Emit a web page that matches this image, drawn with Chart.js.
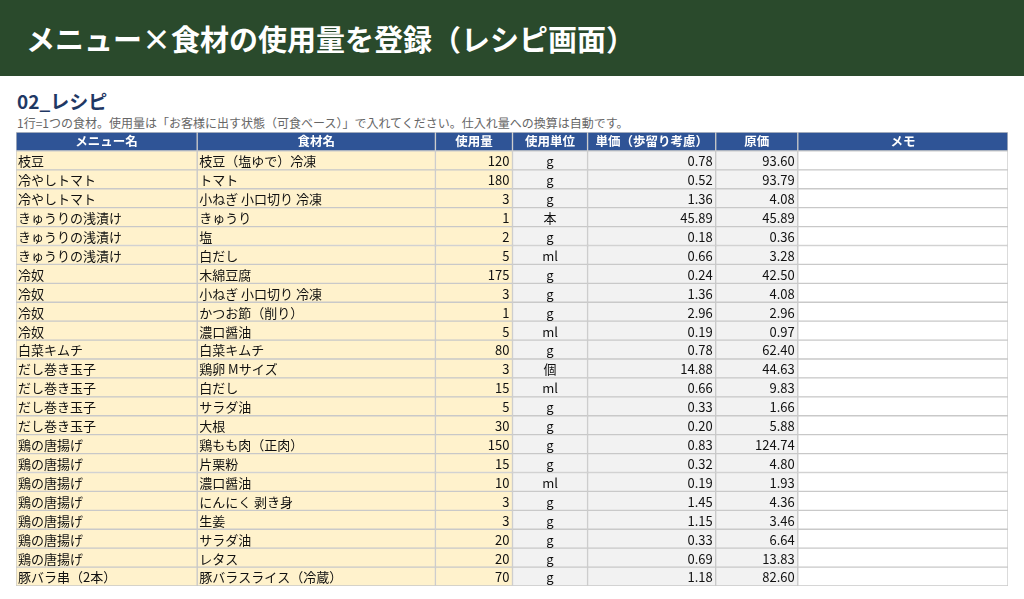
<!DOCTYPE html>
<html><head><meta charset="utf-8">
<script src="https://cdn.jsdelivr.net/npm/chart.js@4"></script>
<style>
body{margin:0;width:1024px;height:599px;overflow:hidden;background:#fff;font-family:"Noto Sans CJK JP","Noto Sans",sans-serif;}
#bar{position:absolute;left:0;top:0;width:1024px;height:76px;background:#2a4a2c;color:#fff;font-weight:bold;font-size:29px;line-height:76px;padding-left:26px;box-sizing:border-box;}
#h2{position:absolute;left:17px;top:87px;font-size:19px;font-weight:bold;color:#1f3864;}
#sub{position:absolute;left:17px;top:114px;font-size:12px;color:#666;}
#wrap{position:absolute;left:16px;top:132px;width:992px;height:454px;}
</style></head><body>
<div id="bar">メニュー×食材の使用量を登録（レシピ画面）</div>
<div id="h2">02_レシピ</div>
<div id="sub">1行=1つの食材。使用量は「お客様に出す状態（可食ベース）」で入れてください。仕入れ量への換算は自動です。</div>
<div id="wrap"><canvas id="c"></canvas></div>
<script>
const headers=["メニュー名","食材名","使用量","使用単位","単価（歩留り考慮）","原価","メモ"];
const menus=["枝豆","冷やしトマト","冷やしトマト","きゅうりの浅漬け","きゅうりの浅漬け","きゅうりの浅漬け","冷奴","冷奴","冷奴","冷奴","白菜キムチ","だし巻き玉子","だし巻き玉子","だし巻き玉子","だし巻き玉子","鶏の唐揚げ","鶏の唐揚げ","鶏の唐揚げ","鶏の唐揚げ","鶏の唐揚げ","鶏の唐揚げ","鶏の唐揚げ","豚バラ串（2本）"];
const ingredients=["枝豆（塩ゆで）冷凍","トマト","小ねぎ 小口切り 冷凍","きゅうり","塩","白だし","木綿豆腐","小ねぎ 小口切り 冷凍","かつお節（削り）","濃口醤油","白菜キムチ","鶏卵 Mサイズ","白だし","サラダ油","大根","鶏もも肉（正肉）","片栗粉","濃口醤油","にんにく 剥き身","生姜","サラダ油","レタス","豚バラスライス（冷蔵）"];
const amounts=[120,180,3,1,2,5,175,3,1,5,80,3,15,5,30,150,15,10,3,3,20,20,70];
const units=["g","g","g","本","g","ml","g","g","g","ml","g","個","ml","g","g","g","g","ml","g","g","g","g","g"];
const unitPrices=[0.78,0.52,1.36,45.89,0.18,0.66,0.24,1.36,2.96,0.19,0.78,14.88,0.66,0.33,0.20,0.83,0.32,0.19,1.45,1.15,0.33,0.69,1.18];
const costs=[93.60,93.79,4.08,45.89,0.36,3.28,42.50,4.08,2.96,0.97,62.40,44.63,9.83,1.66,5.88,124.74,4.80,1.93,4.36,3.46,6.64,13.83,82.60];
const colWidths=[181,238,77,75,128,82,210];
const colFills=["#fff2cc","#fff2cc","#fff2cc","#f2f2f2","#f2f2f2","#f2f2f2","#ffffff"];
const aligns=["left","left","right","center","right","right","left"];
const rowLabels=["header"].concat(menus.map((m,i)=>"r"+i));
const cellText=(c,r)=>{ if(r===0) return headers[c];
  const i=r-1; return [menus[i],ingredients[i],String(amounts[i]),units[i],unitPrices[i].toFixed(2),costs[i].toFixed(2),""][c]; };
const datasets=colWidths.map((w,c)=>({label:headers[c],data:rowLabels.map(()=>w),
  backgroundColor:rowLabels.map((_,r)=>r===0?"#2f5496":colFills[c]),
  borderColor:"#c9c9c9",borderWidth:1,borderSkipped:false,categoryPercentage:1,barPercentage:1}));
const textPlugin={id:"txt",afterDatasetsDraw(ch){const ctx=ch.ctx;ctx.save();ctx.textBaseline="middle";
  ch.data.datasets.forEach((ds,c)=>{ch.getDatasetMeta(c).data.forEach((el,r)=>{
    const t=cellText(c,r); if(!t) return; const L=el.base,R=el.x;
    if(r===0){ctx.font="bold 12.5px 'Noto Sans CJK JP'";ctx.fillStyle="#fff";ctx.textAlign="center";ctx.fillText(t,(L+R)/2,el.y);}
    else{ctx.font="13px 'Noto Sans CJK JP'";ctx.fillStyle="#111";const a=aligns[c];ctx.textAlign=a;
      ctx.fillText(t,a==="left"?L+2:a==="right"?R-3:(L+R)/2,el.y+1);}
  });});ctx.restore();}};
new Chart(document.getElementById("c"),{type:"bar",data:{labels:rowLabels,datasets},
  options:{indexAxis:"y",responsive:true,maintainAspectRatio:false,animation:false,
    layout:{padding:0},
    plugins:{legend:{display:false},tooltip:{enabled:false}},
    scales:{x:{stacked:true,min:0,max:991,display:false},y:{stacked:true,display:false}}},
  plugins:[textPlugin]});
</script></body></html>
